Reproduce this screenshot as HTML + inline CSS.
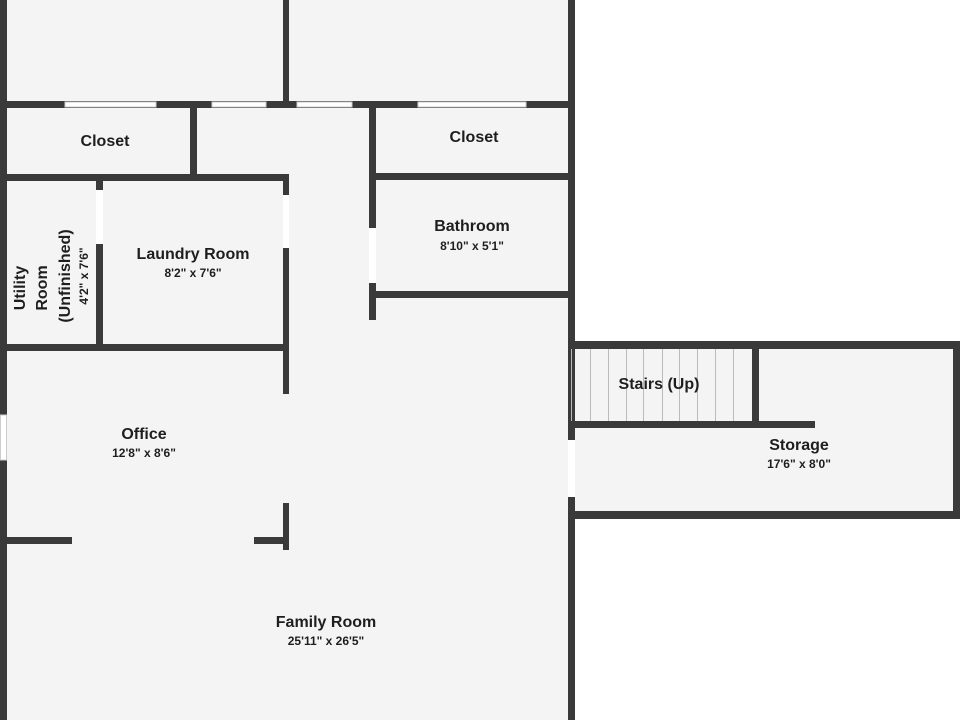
<!DOCTYPE html>
<html><head><style>
body{margin:0;background:#fff;width:960px;height:720px;overflow:hidden}
svg{display:block}
text{font-family:"Liberation Sans","DejaVu Sans",sans-serif;fill:#1e1e1e;text-anchor:middle;font-weight:bold}
.t{font-size:16px}.s{font-size:12px}
</style></head><body>
<svg width="960" height="720" viewBox="0 0 960 720">
<rect x="0" y="0" width="575" height="720" fill="#f4f4f4"/>
<rect x="575" y="341" width="385" height="178" fill="#f4f4f4"/>
<g fill="#3a3a3a">
<rect x="0" y="0" width="7" height="720"/>
<rect x="568" y="0" width="7" height="440"/>
<rect x="568" y="497" width="7" height="223"/>
<rect x="283" y="0" width="6" height="104"/>
<rect x="0" y="101" width="575" height="7"/>
<rect x="190" y="104" width="7" height="77"/>
<rect x="0" y="174" width="289" height="7"/>
<rect x="283" y="174" width="6" height="21"/>
<rect x="283" y="248" width="6" height="146"/>
<rect x="0" y="344" width="289" height="7"/>
<rect x="96" y="174" width="7" height="16"/>
<rect x="96" y="244" width="7" height="107"/>
<rect x="369" y="104" width="7" height="124"/>
<rect x="369" y="283" width="7" height="37"/>
<rect x="372" y="173" width="203" height="7"/>
<rect x="372" y="291" width="203" height="7"/>
<rect x="0" y="537" width="72" height="7"/>
<rect x="254" y="537" width="35" height="7"/>
<rect x="283" y="503" width="6" height="47"/>
<rect x="568" y="341" width="392" height="8"/>
<rect x="953" y="341" width="7" height="178"/>
<rect x="568" y="511" width="392" height="8"/>
<rect x="568" y="421" width="247" height="7"/>
<rect x="752" y="341" width="7" height="87"/>
</g>
<g fill="#fff" stroke="#ccc" stroke-width="1">
<rect x="65" y="102" width="91" height="5"/>
<rect x="212" y="102" width="54" height="5"/>
<rect x="297" y="102" width="55" height="5"/>
<rect x="418" y="102" width="108" height="5"/>
<rect x="0.5" y="415" width="6" height="45"/>
</g>
<g fill="#fff">
<rect x="283" y="195" width="6" height="53"/>
<rect x="96" y="190" width="7" height="54"/>
<rect x="369" y="228" width="7" height="55"/>
<rect x="568" y="440" width="7" height="57"/>
</g>
<g stroke="#bbb" stroke-width="1">
<line x1="571.5" y1="349" x2="571.5" y2="421"/>
<line x1="590.5" y1="349" x2="590.5" y2="421"/>
<line x1="608.5" y1="349" x2="608.5" y2="421"/>
<line x1="626.5" y1="349" x2="626.5" y2="421"/>
<line x1="643.5" y1="349" x2="643.5" y2="421"/>
<line x1="662.5" y1="349" x2="662.5" y2="421"/>
<line x1="679.5" y1="349" x2="679.5" y2="421"/>
<line x1="697.5" y1="349" x2="697.5" y2="421"/>
<line x1="715.5" y1="349" x2="715.5" y2="421"/>
<line x1="733.5" y1="349" x2="733.5" y2="421"/>
</g>
<text class="t" x="105" y="146">Closet</text>
<text class="t" x="474" y="142">Closet</text>
<text class="t" x="472" y="231">Bathroom</text>
<text class="s" x="472" y="250">8'10" x 5'1"</text>
<text class="t" x="193" y="259">Laundry Room</text>
<text class="s" x="193" y="277">8'2" x 7'6"</text>
<g transform="translate(25,288) rotate(-90)"><text class="t" x="0" y="0">Utility</text></g>
<g transform="translate(47,288) rotate(-90)"><text class="t" x="0" y="0">Room</text></g>
<g transform="translate(70,276) rotate(-90)"><text class="t" x="0" y="0">(Unfinished)</text></g>
<g transform="translate(88,276) rotate(-90)"><text class="s" x="0" y="0">4'2" x 7'6"</text></g>
<text class="t" x="144" y="439">Office</text>
<text class="s" x="144" y="457">12'8" x 8'6"</text>
<text class="t" x="659" y="389">Stairs (Up)</text>
<text class="t" x="799" y="450">Storage</text>
<text class="s" x="799" y="468">17'6" x 8'0"</text>
<text class="t" x="326" y="627">Family Room</text>
<text class="s" x="326" y="645">25'11" x 26'5"</text>
</svg>
</body></html>
